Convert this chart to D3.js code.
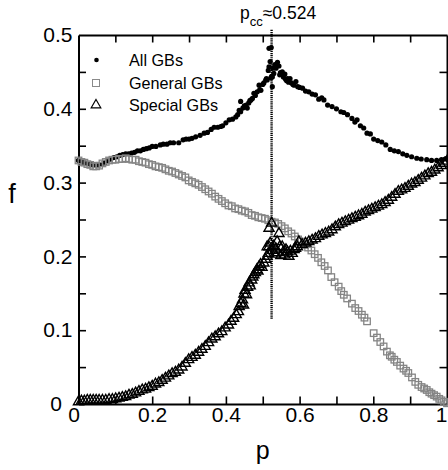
<!DOCTYPE html>
<html>
<head>
<meta charset="utf-8">
<script src="https://cdn.jsdelivr.net/npm/d3@7"></script>
<style>
  html, body { margin: 0; padding: 0; background: #fff; }
  svg { display: block; font-family: "Liberation Sans", Arial, Helvetica, sans-serif; }
</style>
</head>
<body>
<svg id="chart" width="448" height="470"></svg>
<script>
// Fraction f of grain boundaries versus p, with the critical point p_cc.
const pcc = 0.524;
const pccLineRange = [0.115, 0.507];

const xTicks = [0, 0.1, 0.2, 0.3, 0.4, 0.5, 0.6, 0.7, 0.8, 0.9, 1];
const xTickLabels = ["0", "", "0.2", "", "0.4", "", "0.6", "", "0.8", "", "1"];
const yTicks = [0, 0.05, 0.1, 0.15, 0.2, 0.25, 0.3, 0.35, 0.4, 0.45, 0.5];
const yTickLabels = ["0", "", "0.1", "", "0.2", "", "0.3", "", "0.4", "", "0.5"];

const seriesNames = ["All GBs", "General GBs", "Special GBs"];

// [p, f] pairs
const allGBs = [
  [0.000,0.330],[0.008,0.328],[0.016,0.327],[0.024,0.326],[0.032,0.325],[0.040,0.324],[0.048,0.324],
  [0.056,0.324],[0.064,0.325],[0.072,0.327],[0.080,0.330],[0.088,0.332],[0.096,0.334],[0.104,0.335],
  [0.112,0.337],[0.120,0.338],[0.128,0.339],[0.136,0.339],[0.144,0.340],[0.152,0.341],[0.160,0.343],
  [0.168,0.343],[0.176,0.345],[0.184,0.346],[0.192,0.347],[0.200,0.349],[0.210,0.349],[0.222,0.351],
  [0.230,0.352],[0.240,0.352],[0.249,0.354],[0.258,0.354],[0.272,0.354],[0.284,0.358],[0.292,0.359],
  [0.300,0.359],[0.308,0.360],[0.318,0.362],[0.330,0.364],[0.341,0.367],[0.350,0.368],[0.360,0.372],
  [0.368,0.375],[0.378,0.375],[0.386,0.376],[0.391,0.377],[0.400,0.381],[0.409,0.385],[0.418,0.386],
  [0.427,0.389],[0.432,0.392],[0.436,0.398],[0.440,0.396],[0.440,0.410],[0.446,0.401],[0.450,0.404],
  [0.455,0.405],[0.458,0.401],[0.462,0.408],[0.465,0.411],[0.468,0.412],[0.472,0.414],[0.476,0.421],
  [0.480,0.418],[0.485,0.423],[0.490,0.432],[0.492,0.426],[0.495,0.425],[0.500,0.433],[0.503,0.435],
  [0.508,0.439],[0.510,0.441],[0.512,0.439],[0.515,0.452],[0.517,0.457],[0.517,0.482],[0.520,0.464],
  [0.523,0.483],[0.522,0.442],[0.524,0.444],[0.526,0.430],[0.526,0.443],[0.528,0.455],[0.530,0.448],
  [0.533,0.460],[0.536,0.455],[0.540,0.463],[0.544,0.458],[0.546,0.446],[0.548,0.449],[0.550,0.447],
  [0.553,0.450],[0.556,0.443],[0.560,0.447],[0.562,0.440],[0.565,0.438],[0.567,0.441],[0.570,0.436],
  [0.574,0.441],[0.578,0.435],[0.582,0.433],[0.585,0.432],[0.590,0.437],[0.595,0.430],[0.600,0.429],
  [0.608,0.428],[0.616,0.424],[0.625,0.423],[0.634,0.420],[0.643,0.419],[0.652,0.413],[0.660,0.415],
  [0.666,0.412],[0.676,0.405],[0.688,0.403],[0.700,0.400],[0.712,0.396],[0.720,0.395],[0.730,0.392],
  [0.742,0.387],[0.750,0.382],[0.756,0.385],[0.765,0.377],[0.774,0.374],[0.783,0.367],[0.792,0.366],
  [0.801,0.359],[0.812,0.357],[0.823,0.355],[0.834,0.351],[0.846,0.345],[0.857,0.343],[0.868,0.342],
  [0.880,0.339],[0.891,0.337],[0.904,0.335],[0.918,0.333],[0.930,0.332],[0.945,0.331],[0.958,0.330],
  [0.972,0.330],[0.985,0.331],[0.995,0.332],[1.000,0.333]
];

const generalGBs = [
  [0.000,0.330],[0.008,0.328],[0.016,0.327],[0.024,0.325],[0.032,0.324],[0.040,0.322],[0.048,0.322],
  [0.056,0.323],[0.065,0.326],[0.074,0.328],[0.083,0.330],[0.092,0.331],[0.100,0.331],[0.110,0.332],
  [0.119,0.332],[0.128,0.333],[0.137,0.332],[0.146,0.331],[0.155,0.331],[0.164,0.329],[0.173,0.328],
  [0.182,0.327],[0.191,0.325],[0.200,0.324],[0.209,0.322],[0.218,0.321],[0.227,0.320],[0.236,0.318],
  [0.245,0.316],[0.254,0.315],[0.263,0.313],[0.272,0.311],[0.281,0.309],[0.290,0.307],[0.299,0.303],
  [0.308,0.301],[0.317,0.299],[0.326,0.297],[0.335,0.294],[0.344,0.291],[0.353,0.288],[0.362,0.285],
  [0.371,0.281],[0.380,0.278],[0.389,0.275],[0.398,0.272],[0.407,0.269],[0.416,0.268],[0.425,0.265],
  [0.434,0.264],[0.443,0.262],[0.452,0.261],[0.461,0.259],[0.470,0.256],[0.479,0.255],[0.488,0.253],
  [0.497,0.252],[0.506,0.251],[0.515,0.249],[0.524,0.247],[0.533,0.246],[0.542,0.244],[0.551,0.241],
  [0.560,0.238],[0.569,0.234],[0.578,0.231],[0.587,0.227],[0.596,0.223],[0.605,0.220],[0.614,0.216],
  [0.623,0.212],[0.632,0.208],[0.641,0.203],[0.650,0.198],[0.659,0.192],[0.668,0.187],[0.677,0.181],
  [0.686,0.172],[0.695,0.165],[0.706,0.159],[0.713,0.153],[0.720,0.148],[0.729,0.143],[0.742,0.136],
  [0.751,0.130],[0.760,0.126],[0.769,0.121],[0.776,0.117],[0.783,0.112],[0.801,0.096],[0.810,0.090],
  [0.819,0.084],[0.828,0.078],[0.837,0.071],[0.845,0.066],[0.850,0.064],[0.857,0.060],[0.864,0.057],
  [0.873,0.052],[0.882,0.048],[0.889,0.045],[0.895,0.042],[0.905,0.036],[0.914,0.030],[0.922,0.026],
  [0.931,0.023],[0.938,0.021],[0.945,0.019],[0.952,0.016],[0.958,0.014],[0.965,0.012],[0.972,0.010],
  [0.979,0.007],[0.985,0.005],[0.992,0.003],[1.000,0.001]
];

const specialGBs = [
  [0.000,0.003],[0.008,0.004],[0.016,0.004],[0.024,0.005],[0.032,0.005],[0.040,0.005],[0.048,0.005],
  [0.056,0.005],[0.065,0.005],[0.074,0.005],[0.083,0.006],[0.092,0.006],[0.101,0.007],[0.110,0.008],
  [0.119,0.009],[0.128,0.010],[0.137,0.012],[0.146,0.013],[0.155,0.015],[0.164,0.017],[0.173,0.019],
  [0.182,0.020],[0.191,0.022],[0.200,0.024],[0.209,0.027],[0.218,0.029],[0.227,0.032],[0.236,0.035],
  [0.245,0.038],[0.254,0.041],[0.263,0.043],[0.272,0.046],[0.281,0.050],[0.290,0.055],[0.299,0.060],
  [0.308,0.063],[0.317,0.066],[0.326,0.070],[0.335,0.074],[0.344,0.078],[0.353,0.083],[0.362,0.088],
  [0.371,0.091],[0.380,0.095],[0.389,0.098],[0.398,0.103],[0.407,0.107],[0.414,0.112],[0.421,0.116],
  [0.428,0.121],[0.434,0.125],[0.436,0.132],[0.441,0.136],[0.445,0.141],[0.448,0.134],[0.449,0.149],
  [0.452,0.154],[0.456,0.148],[0.459,0.158],[0.463,0.164],[0.466,0.160],[0.470,0.168],[0.473,0.172],
  [0.476,0.175],[0.480,0.178],[0.484,0.182],[0.487,0.180],[0.490,0.186],[0.494,0.189],[0.498,0.185],
  [0.503,0.191],[0.508,0.196],[0.512,0.200],[0.512,0.213],[0.515,0.204],[0.517,0.213],[0.517,0.238],
  [0.520,0.218],[0.524,0.245],[0.526,0.208],[0.530,0.214],[0.533,0.203],[0.536,0.210],[0.539,0.220],
  [0.541,0.205],[0.544,0.231],[0.546,0.213],[0.549,0.201],[0.553,0.213],[0.556,0.206],[0.560,0.202],
  [0.563,0.209],[0.567,0.206],[0.571,0.200],[0.575,0.207],[0.580,0.204],[0.585,0.209],[0.589,0.211],
  [0.594,0.213],[0.598,0.220],[0.607,0.216],[0.616,0.218],[0.625,0.220],[0.634,0.222],[0.643,0.224],
  [0.652,0.227],[0.661,0.229],[0.670,0.231],[0.679,0.233],[0.688,0.236],[0.697,0.240],[0.706,0.243],
  [0.715,0.245],[0.724,0.247],[0.733,0.249],[0.742,0.251],[0.751,0.253],[0.760,0.255],[0.769,0.257],
  [0.778,0.260],[0.787,0.262],[0.796,0.264],[0.805,0.266],[0.814,0.268],[0.823,0.270],[0.832,0.273],
  [0.841,0.276],[0.850,0.280],[0.859,0.284],[0.868,0.288],[0.877,0.290],[0.886,0.292],[0.895,0.295],
  [0.904,0.298],[0.913,0.300],[0.922,0.303],[0.931,0.306],[0.940,0.309],[0.949,0.312],[0.958,0.314],
  [0.967,0.317],[0.976,0.320],[0.985,0.323],[0.993,0.326],[1.000,0.329]
];

const svg = d3.select("#chart");
const plotLeft = 78.5, plotRight = 447, plotTop = 35, plotBottom = 404;

const x = d3.scaleLinear().domain([0, 1]).range([plotLeft, plotRight]);
const y = d3.scaleLinear().domain([0, 0.5]).range([plotBottom, plotTop]);

const tickLen = 7.5;
const labelFont = 21;

// Frame axes with inward ticks on all four sides
const gx = svg.append("g").attr("transform", `translate(0,${plotBottom})`)
  .call(d3.axisBottom(x).tickValues(xTicks).tickSize(-tickLen).tickSizeOuter(0)
    .tickFormat((d, i) => xTickLabels[i]));
const gxt = svg.append("g").attr("transform", `translate(0,${plotTop})`)
  .call(d3.axisTop(x).tickValues(xTicks).tickSize(-tickLen).tickSizeOuter(0).tickFormat(""));
const gy = svg.append("g").attr("transform", `translate(${plotLeft},0)`)
  .call(d3.axisLeft(y).tickValues(yTicks).tickSize(-tickLen).tickSizeOuter(0).tickPadding(6)
    .tickFormat((d, i) => yTickLabels[i]));
const gyr = svg.append("g").attr("transform", `translate(${plotRight},0)`)
  .call(d3.axisRight(y).tickValues(yTicks).tickSize(-tickLen).tickSizeOuter(0).tickFormat(""));

[gx, gxt, gy, gyr].forEach(g => {
  g.select(".domain").attr("stroke", "#000").attr("stroke-width", 2);
  g.selectAll(".tick line").attr("stroke", "#000").attr("stroke-width", 1.6);
  g.selectAll(".tick text").attr("fill", "#000").attr("font-size", labelFont)
    .attr("font-family", '"Liberation Sans", Arial, Helvetica, sans-serif');
});
// end ticks coincide with the frame
[gx, gxt].forEach(g => g.selectAll(".tick").filter(d => d === 0 || d === 1).select("line").remove());
[gy, gyr].forEach(g => g.selectAll(".tick").filter(d => d === 0 || d === 0.5).select("line").remove());

// x labels: baseline placed below the frame
gx.selectAll(".tick text").attr("y", 18).attr("dy", 0);
// shift the corner labels clear of each other and of the window edge
gx.selectAll(".tick text").filter(d => d === 0).attr("dx", -5);
gx.selectAll(".tick text").filter(d => d === 1).attr("dx", -6);
gy.selectAll(".tick text").filter(d => d === 0).attr("dx", -10.5);

// Axis titles
svg.append("text").attr("x", x(0.5)).attr("y", 459).attr("text-anchor", "middle")
  .attr("font-size", 25).text("p");
svg.append("text").attr("x", 12).attr("y", 203).attr("text-anchor", "middle")
  .attr("font-size", 27).text("f");

// Critical point annotation
const ann = svg.append("text").attr("x", 240).attr("y", 18.5).attr("font-size", 17.5);
ann.append("tspan").text("p");
ann.append("tspan").attr("font-size", 13).attr("dy", 7).text("cc");
ann.append("tspan").attr("dy", -7).text("\u2248" + pcc.toFixed(3));

svg.append("line")
  .attr("x1", x(pcc)).attr("x2", x(pcc))
  .attr("y1", y(pccLineRange[1])).attr("y2", y(pccLineRange[0]))
  .attr("stroke", "#000").attr("stroke-width", 2.4).attr("stroke-dasharray", "1.2,0.9");

// Marker shapes
const sq = 6.5;
const triPath = d3.symbol().type(d3.symbolTriangle).size(44)();

// All GBs: filled dots
svg.append("g").selectAll("circle").data(allGBs).join("circle")
  .attr("cx", d => x(d[0])).attr("cy", d => y(d[1])).attr("r", 2.6).attr("fill", "#000");

// General GBs: open grey squares
svg.append("g").selectAll("rect").data(generalGBs).join("rect")
  .attr("x", d => x(d[0]) - sq / 2).attr("y", d => y(d[1]) - sq / 2)
  .attr("width", sq).attr("height", sq)
  .attr("fill", "none").attr("stroke", "#858585").attr("stroke-width", 1.3);

// Special GBs: open black triangles
svg.append("g").selectAll("path").data(specialGBs).join("path")
  .attr("d", triPath)
  .attr("transform", d => `translate(${x(d[0])},${y(d[1])})`)
  .attr("fill", "none").attr("stroke", "#000").attr("stroke-width", 1.4);

// Legend
const legend = svg.append("g");
const legendY = [60, 83, 105];
legend.append("circle").attr("cx", 96.5).attr("cy", legendY[0]).attr("r", 2.3).attr("fill", "#000");
legend.append("rect").attr("x", 96 - 3.5).attr("y", legendY[1] - 3.5).attr("width", 7).attr("height", 7)
  .attr("fill", "none").attr("stroke", "#8a8a8a").attr("stroke-width", 1);
legend.append("path").attr("d", d3.symbol().type(d3.symbolTriangle).size(40)())
  .attr("transform", `translate(96,${legendY[2]})`)
  .attr("fill", "none").attr("stroke", "#000").attr("stroke-width", 1.2);
seriesNames.forEach((name, i) => {
  legend.append("text").attr("x", 129).attr("y", legendY[i] + 5.8)
    .attr("font-size", 16.2).attr("fill", "#000").text(name);
});
</script>
</body>
</html>
